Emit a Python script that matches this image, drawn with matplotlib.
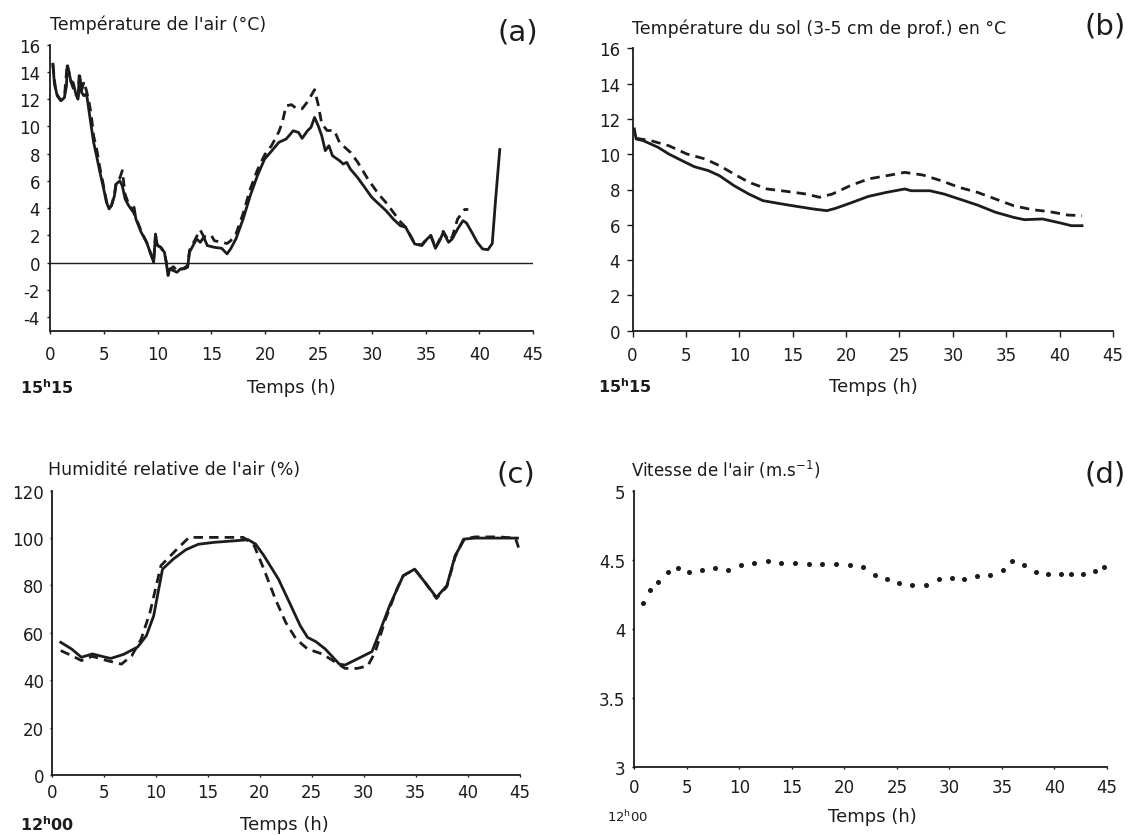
"""
Quatre panneaux de microclimat : température de l'air, du sol,
humidité relative et vitesse de l'air en fonction du temps.
"""

import matplotlib
matplotlib.use("Agg")
import matplotlib.pyplot as plt

W, H = 1128, 837
INK = "#1c1c1c"

# (a) Température de l'air - trait plein
air_sol_t = [0.23, 0.37, 0.63, 0.97, 1.3, 1.5, 1.57, 1.7, 1.9, 2.13, 2.37, 2.57, 2.7, 2.9,
             3.13, 3.37, 3.57, 3.8, 4.03, 4.3, 4.63, 4.97, 5.23, 5.47, 5.7, 5.97, 6.13,
             6.47, 6.7, 6.97, 7.3, 7.63, 7.8, 7.97, 8.47, 8.97, 9.47, 9.63, 9.8, 9.97,
             10.3, 10.63, 10.8, 10.97, 11.13, 11.47, 11.8, 12.13, 12.47, 12.8, 12.97,
             13.3, 13.63, 13.97, 14.3, 14.63, 15.3, 15.97, 16.47, 16.8, 17.3, 17.97,
             18.63, 19.3, 19.97, 20.63, 21.3, 21.97, 22.3, 22.63, 23.13, 23.47, 23.97,
             24.3, 24.63, 24.97, 25.3, 25.63, 25.97, 26.3, 26.97, 27.3, 27.63, 27.97,
             28.63, 29.3, 29.97, 30.63, 31.3, 31.97, 32.63, 33.13, 33.63, 33.97, 34.63,
             35.13, 35.47, 35.9, 36.3, 36.63, 37.13, 37.47, 37.97, 38.47, 38.8, 39.3,
             39.8, 40.3, 40.8, 41.2, 41.5, 41.9]
air_sol = [14.57, 13.2, 12.25, 11.9, 12.1, 13.0, 14.45, 14.1, 13.35, 13.2, 12.4, 12.0, 13.7,
           12.5, 12.25, 12.4, 11.3, 10.05, 8.83, 7.85, 6.6, 5.4, 4.43, 3.94, 4.2, 4.9, 5.77,
           6.0, 5.65, 4.67, 4.18, 3.81, 4.06, 3.2, 2.22, 1.49, 0.39, 0.02, 2.1, 1.25, 1.12,
           0.76, 0.02, -0.95, -0.46, -0.59, -0.71, -0.46, -0.46, -0.34, 0.76, 1.25, 1.74,
           1.49, 1.86, 1.25, 1.12, 1.05, 0.64, 1.0, 1.74, 3.2, 4.91, 6.38, 7.6, 8.2, 8.83,
           9.07, 9.36, 9.68, 9.56, 9.12, 9.68, 9.93, 10.66, 10.05, 9.32, 8.22, 8.58, 7.85,
           7.48, 7.24, 7.36, 6.87, 6.26, 5.53, 4.79, 4.3, 3.81, 3.2, 2.71, 2.59, 1.86, 1.37,
           1.25, 1.74, 1.98, 1.05, 1.61, 2.22, 1.49, 1.74, 2.47, 3.08, 2.91, 2.22, 1.49,
           1.0, 0.95, 1.4, 4.5, 8.3]

# (a) Température de l'air - tirets
air_dash_t = [0.23, 0.5, 0.97, 1.3, 1.57, 1.9, 2.37, 2.6, 2.7, 2.9, 3.13, 3.4, 3.6, 3.8,
              4.03, 4.3, 4.63, 4.97, 5.23, 5.47, 5.7, 5.97, 6.13, 6.47, 6.7, 6.97, 7.3,
              7.63, 7.97, 8.47, 8.97, 9.47, 9.63, 9.8, 9.97, 10.3, 10.63, 10.97, 11.47,
              11.8, 12.47, 12.8, 12.97, 13.3, 13.63, 13.97, 14.3, 14.63, 15.0, 15.3,
              15.97, 16.47, 16.8, 17.3, 17.97, 18.63, 19.3, 19.97, 20.63, 21.3, 21.63,
              21.97, 22.47, 22.97, 23.47, 23.97, 24.63, 24.97, 25.3, 25.8, 26.47, 26.97,
              27.97, 28.63, 29.63, 30.63, 31.3, 31.97, 32.63, 33.13, 33.63, 33.97, 34.63,
              35.13, 35.47, 35.9, 36.3, 36.63, 37.13, 37.47, 37.97, 38.63, 38.97]
air_dash = [14.57, 12.5, 11.9, 12.1, 14.6, 13.3, 12.3, 12.2, 14.0, 12.6, 13.3, 12.5, 11.8,
            10.9, 9.3, 8.4, 6.9, 5.6, 4.5, 4.0, 4.2, 5.0, 5.9, 6.2, 6.75, 5.0, 4.3, 3.9,
            3.3, 2.3, 1.5, 0.4, 0.1, 2.0, 1.3, 1.1, 0.7, -0.6, -0.3, -0.6, -0.4, -0.2, 0.9,
            1.4, 1.9, 2.4, 1.9, 1.9, 2.0, 1.6, 1.5, 1.4, 1.6, 2.1, 3.6, 5.4, 6.8, 7.9, 8.6,
            9.6, 10.3, 11.5, 11.6, 11.3, 11.3, 11.8, 12.7, 11.6, 10.2, 9.7, 9.7, 8.8, 8.1,
            7.4, 6.1, 5.0, 4.4, 3.7, 3.0, 2.6, 1.9, 1.4, 1.3, 1.8, 2.0, 1.1, 1.7, 2.3, 1.6,
            1.9, 3.2, 3.9, 3.9]

# (b) Température du sol
soil_sol_t = [0.17, 0.34, 1.0, 2.4, 3.4, 4.75, 5.8, 7.1, 8.15, 9.5, 10.9, 12.2, 13.6, 15.3,
              17.0, 18.2, 19.0, 20.4, 22.1, 23.8, 25.5, 26.1, 27.85, 29.2, 30.6, 32.3,
              34.0, 35.7, 36.7, 38.4, 40.1, 41.1, 42.1]
soil_sol = [11.43, 10.86, 10.77, 10.39, 10.01, 9.6, 9.29, 9.07, 8.78, 8.22, 7.74, 7.37,
            7.22, 7.05, 6.89, 6.8, 6.93, 7.23, 7.61, 7.84, 8.03, 7.93, 7.93, 7.74, 7.46,
            7.12, 6.71, 6.42, 6.29, 6.33, 6.1, 5.95, 5.95]
soil_dash_t = [0.34, 1.7, 3.4, 5.1, 6.8, 8.15, 9.5, 10.9, 12.6, 14.6, 16.3, 17.5, 18.7,
               20.4, 22.1, 23.8, 25.5, 27.2, 28.9, 30.6, 32.3, 34.0, 35.7, 37.4, 39.1,
               40.8, 42.1]
soil_dash = [10.9, 10.77, 10.48, 10.01, 9.73, 9.35, 8.88, 8.41, 8.03, 7.88, 7.74, 7.56,
             7.74, 8.22, 8.6, 8.78, 8.97, 8.82, 8.5, 8.12, 7.84, 7.46, 7.08, 6.86, 6.74,
             6.55, 6.52]

# (c) Humidité relative
hr_sol_t = [0.86, 1.9, 2.85, 3.9, 4.8, 5.67, 6.9, 8.25, 9.1, 9.8, 10.65, 11.7, 12.9, 14.1,
            15.6, 17.4, 18.9, 19.6, 20.4, 21.8, 22.85, 23.9, 24.6, 25.4, 26.3, 27.66, 28.2,
            29.4, 30.8, 31.4, 32.5, 33.8, 34.9, 35.9, 37.0, 38.0, 38.8, 39.7, 40.7, 43.1,
            44.8]
hr_sol = [56.0, 53.2, 49.7, 51.1, 50.1, 49.2, 50.9, 54.0, 58.8, 67.2, 86.9, 91.2, 95.1,
          97.4, 98.2, 98.8, 99.3, 97.5, 92.6, 82.7, 72.9, 63.0, 58.1, 56.3, 53.2, 46.8,
          46.4, 49.0, 52.1, 58.8, 71.5, 84.1, 86.9, 81.3, 75.0, 79.9, 92.6, 99.6, 100.0,
          100.0, 100.0]
hr_dash_t = [0.86, 1.9, 2.85, 3.9, 5.3, 6.7, 7.7, 8.6, 9.45, 10.5, 11.9, 13.2, 15.6, 18.4,
             19.4, 20.4, 21.5, 22.5, 23.5, 24.6, 26.0, 27.3, 28.2, 29.4, 30.4, 31.1, 32.1,
             33.2, 33.8, 34.9, 35.9, 37.0, 38.0, 38.8, 39.6, 40.7, 43.0, 44.6, 44.9]
hr_dash = [52.5, 50.4, 48.3, 50.1, 48.3, 46.8, 50.4, 57.4, 68.7, 88.4, 94.7, 100.3, 100.3,
           100.3, 97.5, 86.9, 74.3, 64.4, 57.4, 53.2, 51.1, 47.6, 45.0, 45.0, 46.1, 51.8,
           65.8, 78.5, 84.1, 86.9, 81.3, 74.5, 79.5, 92.0, 99.5, 100.5, 100.5, 100.0, 96.0]

# (d) Vitesse de l'air
wind_t = [0.86, 1.48, 2.24, 3.2, 4.14, 5.24, 6.45, 7.69, 8.93, 10.17, 11.4, 12.7, 13.97,
          15.3, 16.6, 17.9, 19.2, 20.5, 21.8, 22.9, 24.1, 25.2, 26.4, 27.8, 29.0, 30.2,
          31.4, 32.6, 33.9, 35.1, 36.0, 37.1, 38.2, 39.4, 40.6, 41.6, 42.7, 43.9, 44.7]
wind = [4.19, 4.28, 4.34, 4.41, 4.44, 4.41, 4.43, 4.44, 4.43, 4.46, 4.48, 4.49, 4.48, 4.48,
        4.47, 4.47, 4.47, 4.46, 4.45, 4.39, 4.36, 4.33, 4.32, 4.32, 4.36, 4.37, 4.36, 4.38,
        4.39, 4.43, 4.49, 4.46, 4.41, 4.40, 4.40, 4.40, 4.40, 4.42, 4.45]

x_ticks = [0, 5, 10, 15, 20, 25, 30, 35, 40, 45]

plt.rcParams.update({
    "font.family": "DejaVu Sans",
    "text.color": INK,
    "axes.edgecolor": INK,
    "xtick.color": INK,
    "ytick.color": INK,
    "axes.unicode_minus": False,
})

fig = plt.figure(figsize=(W / 100, H / 100), dpi=100)
fig.patch.set_facecolor("white")


def px_axes(x0, x1, ytop, ybot):
    """Crée des axes à partir de coordonnées en pixels (origine en haut à gauche)."""
    return fig.add_axes([x0 / W, 1 - ybot / H, (x1 - x0) / W, (ybot - ytop) / H])


def px_text(x, y, s, **kw):
    fig.text(x / W, 1 - y / H, s, **kw)


def style(ax, ylim, yticks, ylabels=None, tlen=2.5, xpad=9, ypad=7, fs=12):
    ax.set_xlim(0, 45)
    ax.set_ylim(*ylim)
    ax.set_xticks(x_ticks)
    ax.set_yticks(yticks)
    if ylabels is not None:
        ax.set_yticklabels(ylabels)
    for s in ("top", "right"):
        ax.spines[s].set_visible(False)
    for s in ("left", "bottom"):
        ax.spines[s].set_linewidth(1.3)
    ax.tick_params(axis="x", length=tlen, width=1, pad=xpad, labelsize=fs)
    ax.tick_params(axis="y", length=tlen, width=1, pad=ypad, labelsize=fs)


line_kw = dict(color=INK, linewidth=2.0)
dash_kw = dict(color=INK, linewidth=2.0, linestyle=(0, (3.4, 2.2)))

# (a)
ax1 = px_axes(50.4, 533, 45.7, 331.7)
ax1.axhline(0, color=INK, linewidth=1.0)
ax1.plot(air_dash_t, air_dash, **dash_kw)
ax1.plot(air_sol_t, air_sol, **line_kw)
style(ax1, (-5, 16), range(-4, 17, 2), xpad=8, ypad=5)
px_text(50, 25, "Température de l'air (°C)", fontsize=12.5, va="center")
px_text(538, 33, "(a)", fontsize=21, ha="right", va="center")
px_text(20, 388, r"15$^{\mathbf{h}}$15", fontsize=11.5, fontweight="bold", va="center")
px_text(291, 388, "Temps (h)", fontsize=13, ha="center", va="center")

# (b)
ax2 = px_axes(632.5, 1113, 49.3, 331.7)
ax2.plot(soil_dash_t, soil_dash, **dash_kw)
ax2.plot(soil_sol_t, soil_sol, **line_kw)
style(ax2, (0, 16), range(0, 17, 2), tlen=4, xpad=7, ypad=5)
px_text(632, 29, "Température du sol (3-5 cm de prof.) en °C", fontsize=12.5, va="center")
px_text(1126, 27, "(b)", fontsize=21, ha="right", va="center")
px_text(598, 387, r"15$^{\mathbf{h}}$15", fontsize=11.5, fontweight="bold", va="center")
px_text(873, 387, "Temps (h)", fontsize=13, ha="center", va="center")

# (c)
ax3 = px_axes(51.8, 519.6, 491.7, 776)
ax3.plot(hr_dash_t, hr_dash, **dash_kw)
ax3.plot(hr_sol_t, hr_sol, **line_kw)
style(ax3, (0, 120), range(0, 121, 20), tlen=1.5, xpad=4, ypad=4)
px_text(48, 470, "Humidité relative de l'air (%)", fontsize=12.5, va="center")
px_text(535, 475, "(c)", fontsize=21, ha="right", va="center")
px_text(20, 825, r"12$^{\mathbf{h}}$00", fontsize=11.5, fontweight="bold", va="center")
px_text(284, 825, "Temps (h)", fontsize=13, ha="center", va="center")

# (d)
ax4 = px_axes(634.3, 1107, 491.7, 768.3)
ax4.plot(wind_t, wind, linestyle="none", marker="o", markersize=2.6, color=INK)
style(ax4, (3, 5), [3, 3.5, 4, 4.5, 5], ["3", "3.5", "4", "4.5", "5"],
      tlen=1.5, xpad=6, ypad=5)
px_text(631, 470, r"Vitesse de l'air (m.s$^{-1}$)", fontsize=12, va="center")
px_text(1126, 475, "(d)", fontsize=21, ha="right", va="center")
px_text(607, 817, r"12$^{\mathrm{h}}$00", fontsize=9.5, va="center")
px_text(872, 817, "Temps (h)", fontsize=13, ha="center", va="center")

fig.savefig("out.png", dpi=100, facecolor="white")
